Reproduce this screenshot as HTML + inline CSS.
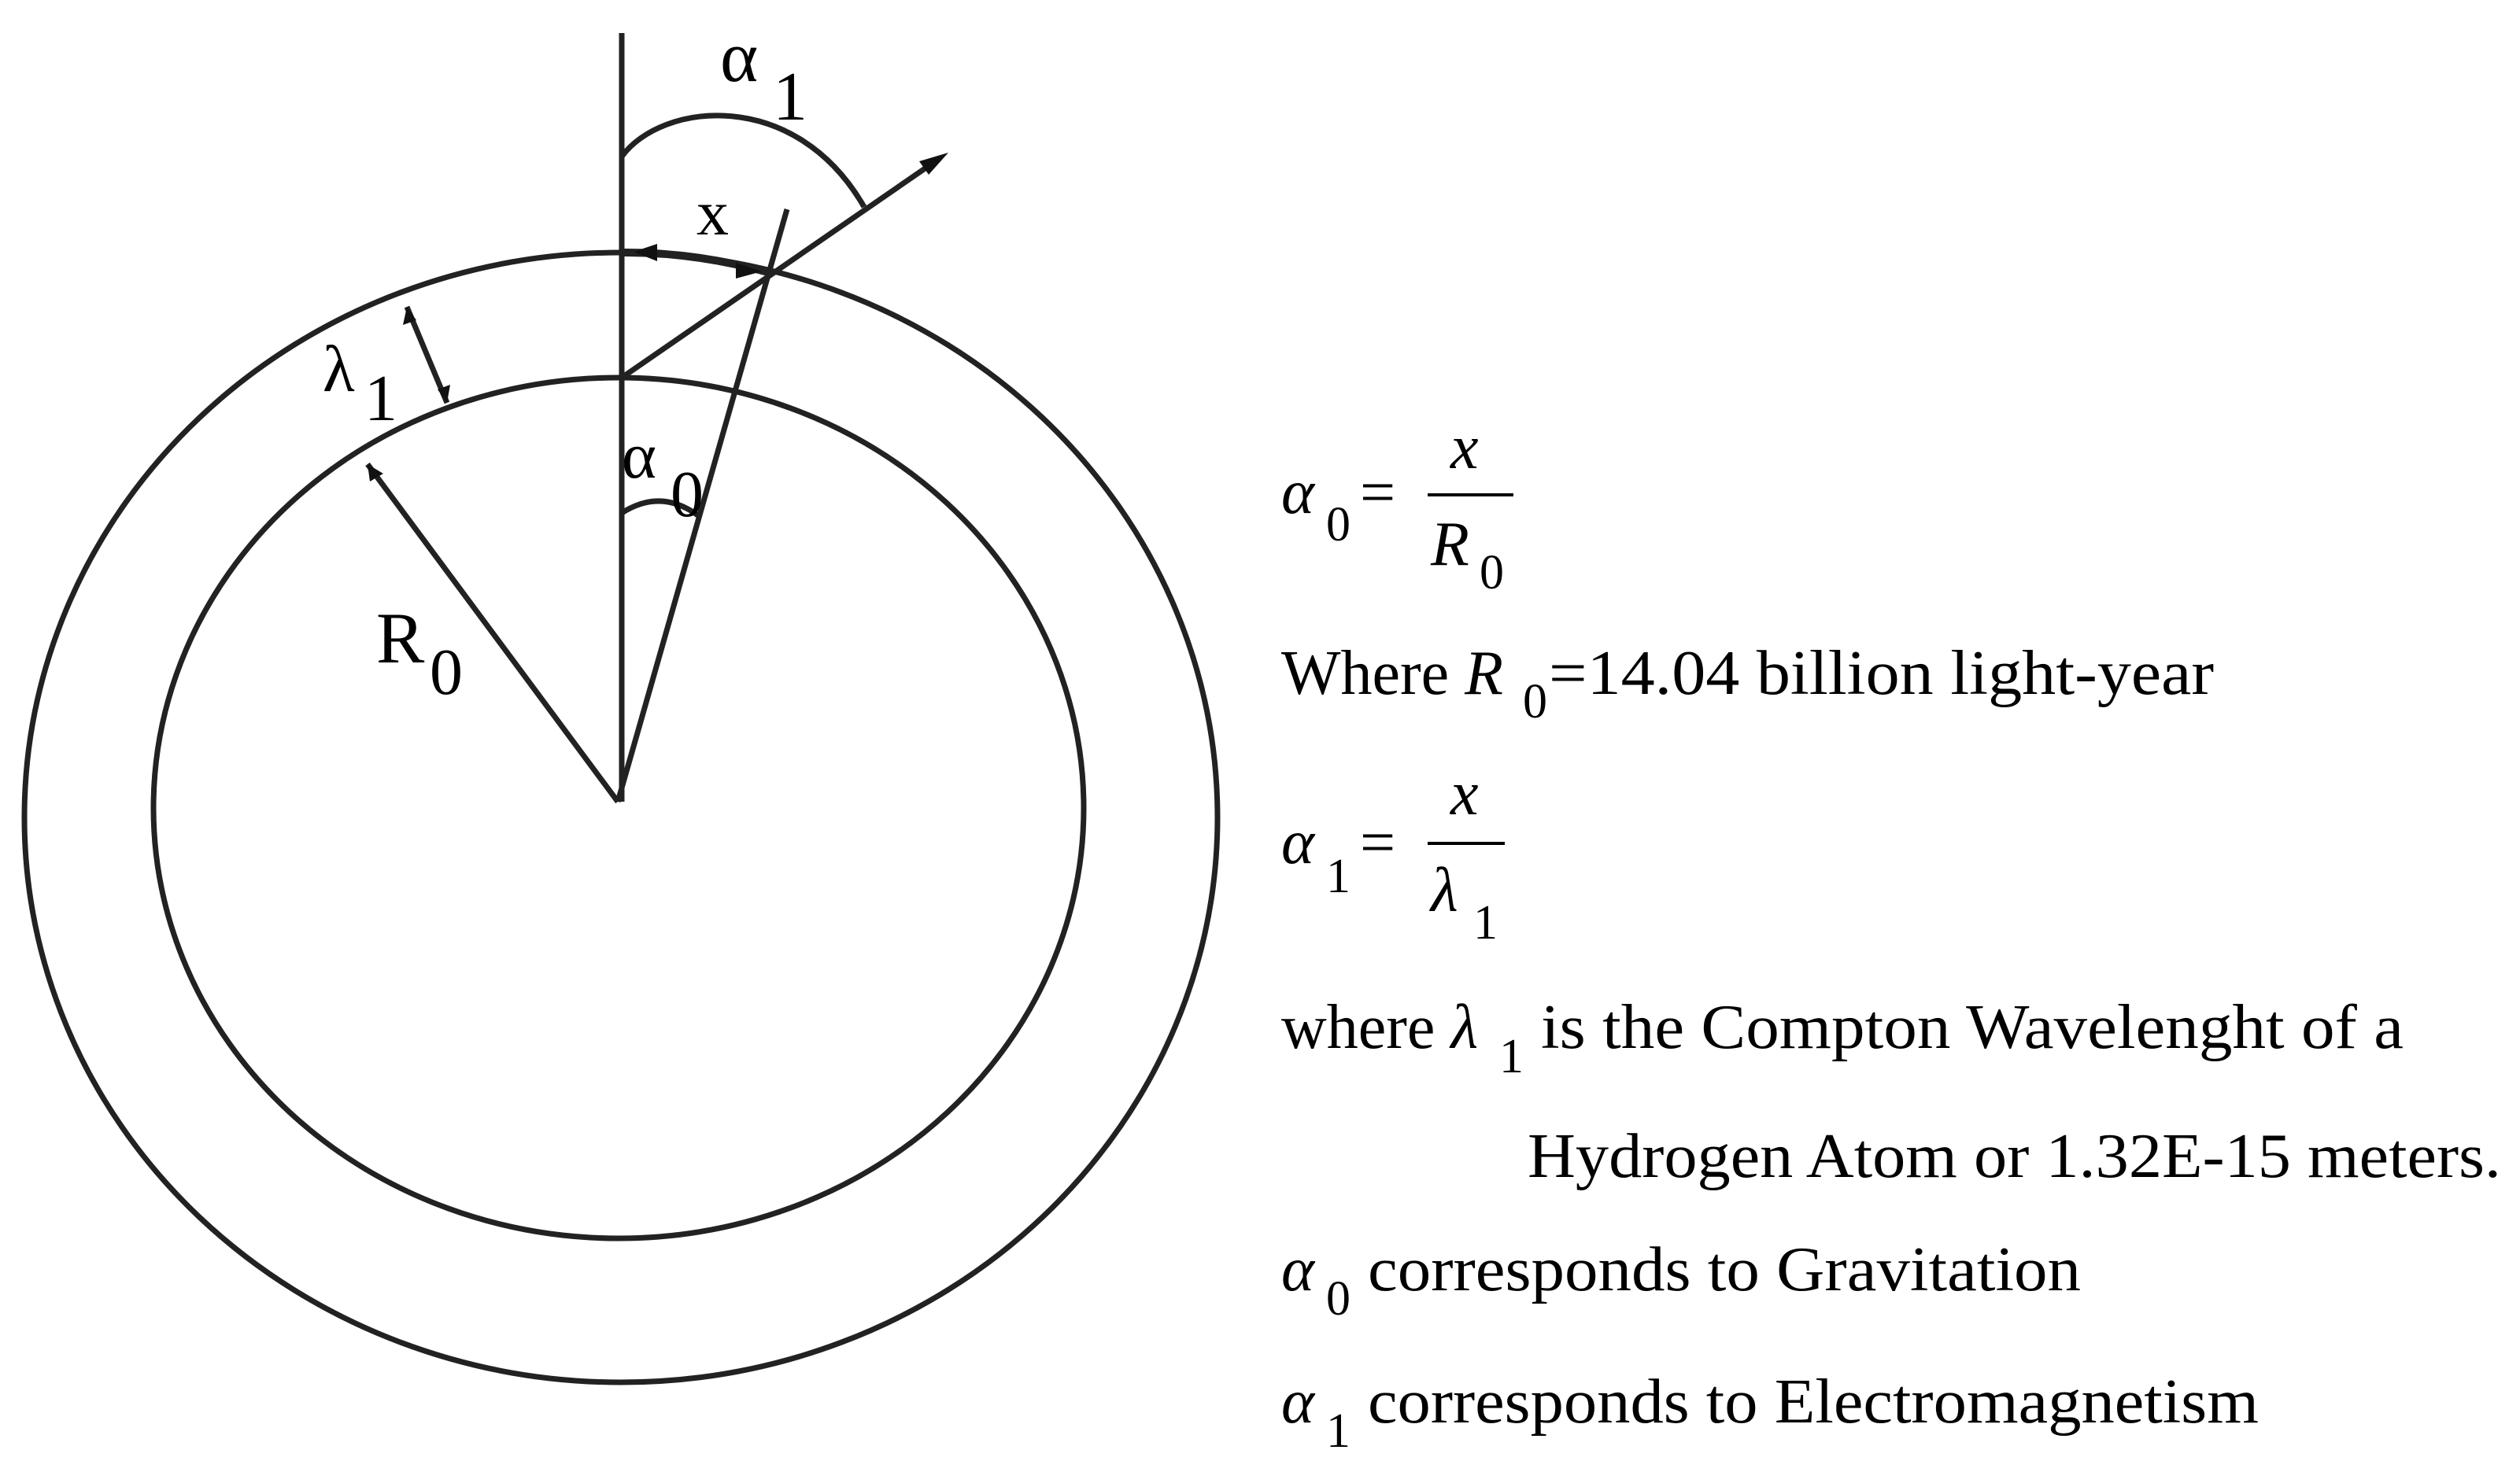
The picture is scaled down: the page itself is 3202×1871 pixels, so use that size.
<!DOCTYPE html>
<html><head><meta charset="utf-8"><style>
html,body{margin:0;padding:0;background:#fff;}
svg{display:block;}
text{font-family:"Liberation Serif",serif;fill:#000;}
</style></head><body>
<svg width="3202" height="1871" viewBox="0 0 3202 1871" xmlns="http://www.w3.org/2000/svg">
<g fill="none" stroke="#222" stroke-width="7">
<ellipse cx="789" cy="1039" rx="758" ry="718"/>
<ellipse cx="786" cy="1027" rx="591" ry="547"/>
<line x1="790" y1="42" x2="790" y2="1019"/>
<line x1="785" y1="1019" x2="1000" y2="266"/>
<line x1="785" y1="1019" x2="467" y2="590"/>
<line x1="790" y1="480" x2="1190" y2="204"/>
<line x1="517" y1="390" x2="568" y2="512"/>
<path d="M790,199 C840,130 1010,110 1098,263"/>
<path d="M790,652 Q840,620 888,656"/>
<path d="M790,321 Q880,320 976,346" stroke-width="10"/>
</g>
<g fill="#111">
<polygon points="1205,194 1168,205 1180,222"/>
<polygon points="467,590 470,612 487,602"/>
<polygon points="517,390 512,413 529,407"/>
<polygon points="568,512 572,489 556,495"/>
<polygon points="805,320 835,310 835,332"/>
<polygon points="968,345 935,334 935,354"/>
</g>
<g fill="#333">
<text x="915" y="103" font-size="92">α</text>
<text x="982" y="152" font-size="88">1</text>
<text x="885" y="298" font-size="82">x</text>
<text x="478" y="842" font-size="92">R</text>
<text x="546" y="882" font-size="84">0</text>
<text x="410" y="497" font-size="84">λ</text>
<text x="463" y="534" font-size="84">1</text>
<text x="790" y="607" font-size="84">α</text>
<text x="852" y="656" font-size="84">0</text>
</g>
<g font-size="80">
<text x="1628" y="652" font-style="italic">α</text>
<text x="1685" y="687" font-size="62">0</text>
<text x="1728" y="652">=</text>
<text x="1843" y="595" font-style="italic">x</text>
<line x1="1814" y1="629" x2="1923" y2="629" stroke="#000" stroke-width="4"/>
<text x="1818" y="718" font-style="italic">R</text>
<text x="1880" y="748" font-size="62">0</text>

<text x="1628" y="882">Where <tspan font-style="italic">R</tspan></text>
<text x="1935" y="912" font-size="62">0</text>
<text x="1968" y="882" textLength="845" lengthAdjust="spacingAndGlyphs">=14.04 billion light-year</text>

<text x="1628" y="1097" font-style="italic">α</text>
<text x="1685" y="1134" font-size="62">1</text>
<text x="1728" y="1097">=</text>
<text x="1843" y="1035" font-style="italic">x</text>
<line x1="1814" y1="1072" x2="1912" y2="1072" stroke="#000" stroke-width="4"/>
<text x="1818" y="1158" font-style="italic">λ</text>
<text x="1872" y="1193" font-size="62">1</text>

<text x="1628" y="1332">where <tspan font-style="italic">λ</tspan></text>
<text x="1905" y="1363" font-size="62">1</text>
<text x="1958" y="1332" textLength="1096" lengthAdjust="spacingAndGlyphs">is the Compton Wavelenght of a</text>
<text x="1941" y="1496" textLength="1237" lengthAdjust="spacingAndGlyphs">Hydrogen Atom or 1.32E-15 meters.</text>

<text x="1628" y="1640" font-style="italic">α</text>
<text x="1685" y="1671" font-size="62">0</text>
<text x="1738" y="1640" textLength="906" lengthAdjust="spacingAndGlyphs">corresponds to Gravitation</text>

<text x="1628" y="1808" font-style="italic">α</text>
<text x="1685" y="1839" font-size="62">1</text>
<text x="1738" y="1808" textLength="1132" lengthAdjust="spacingAndGlyphs">corresponds to Electromagnetism</text>
</g>
</svg>
</body></html>
